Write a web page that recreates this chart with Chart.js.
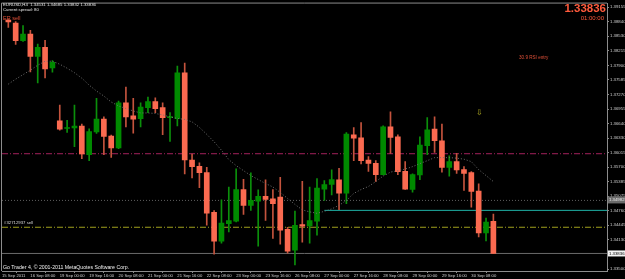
<!DOCTYPE html>
<html>
<head>
<meta charset="utf-8">
<script src="https://cdn.jsdelivr.net/npm/chart.js@4.4.1/dist/chart.umd.min.js"></script>
<style>
  html, body { margin: 0; padding: 0; background: #000; }
  #chartWrap { width: 625px; height: 279px; }
</style>
</head>
<body>
<div id="chartWrap"><canvas id="chartDiv" width="625" height="279"></canvas></div>
<script>
// EURUSD H4, 15 Sep 20:00 .. 30 Sep 20:00 (one entry per bar)
const opens = [1.38880, 1.38812, 1.38433, 1.38575, 1.38096, 1.38290, 1.37845, 1.36700, 1.36535, 1.36550,
  1.36586, 1.35970, 1.36464, 1.36737, 1.36372, 1.36114, 1.37093, 1.36808, 1.36750, 1.36986,
  1.37115, 1.36986, 1.36771, 1.36750, 1.37738, 1.35856, 1.35719, 1.35583, 1.34724, 1.34101,
  1.34482, 1.34531, 1.35218, 1.34875, 1.34967, 1.35068, 1.35019, 1.35053, 1.34359, 1.33908,
  1.34460, 1.34430, 1.34531, 1.35225, 1.35326, 1.35427, 1.35139, 1.36400, 1.36335, 1.35856,
  1.35783, 1.35540, 1.36571, 1.36357, 1.35611, 1.35218, 1.35534, 1.36163, 1.36522, 1.36271,
  1.35697, 1.35820, 1.35648, 1.35583, 1.35182, 1.34280, 1.34531];
const highs = [1.38891, 1.38848, 1.38762, 1.38655, 1.38361, 1.38440, 1.38004, 1.37044, 1.36715, 1.37044,
  1.36629, 1.36528, 1.37188, 1.36786, 1.36393, 1.37130, 1.37431, 1.37188, 1.37093, 1.37216,
  1.37201, 1.37093, 1.36878, 1.37882, 1.37952, 1.35985, 1.35792, 1.35697, 1.34760, 1.34997,
  1.35268, 1.35663, 1.35439, 1.35577, 1.35212, 1.35427, 1.35218, 1.35482, 1.34402, 1.34752,
  1.35397, 1.35268, 1.35455, 1.35412, 1.35641, 1.35676, 1.36449, 1.36556, 1.36664, 1.35927,
  1.35841, 1.36593, 1.36894, 1.36400, 1.35820, 1.35555, 1.36357, 1.36771, 1.36786, 1.36629,
  1.35948, 1.35998, 1.35712, 1.35605, 1.35341, 1.34602, 1.34685];
const lows = [1.38719, 1.38354, 1.38418, 1.37759, 1.37523, 1.37630, 1.37753, 1.36500, 1.36449, 1.36142,
  1.35884, 1.35841, 1.36427, 1.35970, 1.35912, 1.36100, 1.36571, 1.36436, 1.36571, 1.36878,
  1.36878, 1.36400, 1.36256, 1.36593, 1.35555, 1.35470, 1.35255, 1.34445, 1.33822, 1.34058,
  1.34301, 1.34516, 1.34681, 1.34767, 1.33994, 1.34552, 1.34159, 1.34037, 1.33844, 1.33586,
  1.34080, 1.34058, 1.34230, 1.34982, 1.35100, 1.34782, 1.34911, 1.35841, 1.35770, 1.35611,
  1.35390, 1.35534, 1.35998, 1.35540, 1.35218, 1.35160, 1.35433, 1.35970, 1.36019, 1.35590,
  1.35504, 1.35568, 1.35197, 1.34838, 1.34194, 1.34108, 1.33832];
const closes = [1.38837, 1.38433, 1.38575, 1.38096, 1.38290, 1.37824, 1.37967, 1.36522, 1.36556, 1.36586,
  1.35985, 1.36470, 1.36737, 1.36363, 1.36114, 1.37093, 1.36786, 1.36737, 1.37001, 1.37115,
  1.36964, 1.36771, 1.36793, 1.37738, 1.35856, 1.35712, 1.35583, 1.34709, 1.34101, 1.34494,
  1.34546, 1.35218, 1.34875, 1.34982, 1.35068, 1.35003, 1.34911, 1.34338, 1.33887, 1.34445,
  1.34424, 1.34546, 1.35246, 1.35326, 1.35433, 1.35139, 1.36415, 1.36329, 1.35841, 1.35783,
  1.35540, 1.36571, 1.36342, 1.35605, 1.35225, 1.35540, 1.36178, 1.36507, 1.36271, 1.35697,
  1.35820, 1.35641, 1.35568, 1.35175, 1.34280, 1.34516, 1.33836];
// dotted moving average
const maValues = [1.37495, 1.37602, 1.37699, 1.37796, 1.37903, 1.37989, 1.37989, 1.37924, 1.37839, 1.37742,
  1.37624, 1.37473, 1.37345, 1.37237, 1.37108, 1.37022, 1.36969, 1.36915, 1.36872, 1.36872,
  1.36861, 1.36829, 1.36786, 1.36754, 1.36732, 1.36679, 1.36561, 1.36410, 1.36249, 1.36067,
  1.35863, 1.35734, 1.35626, 1.35519, 1.35433, 1.35347, 1.35272, 1.35154, 1.35025, 1.34896,
  1.34778, 1.34735, 1.34703, 1.34746, 1.34799, 1.34875, 1.34982, 1.35132, 1.35218, 1.35283,
  1.35390, 1.35508, 1.35594, 1.35626, 1.35659, 1.35712, 1.35777, 1.35841, 1.35906, 1.35906,
  1.35906, 1.35895, 1.35873, 1.35820, 1.35648, 1.35519, 1.35390];

const timeLabels = ["15 Sep 2011", "16 Sep 08:00", "19 Sep 00:00", "19 Sep 16:00", "20 Sep 08:00",
  "21 Sep 00:00", "21 Sep 16:00", "22 Sep 08:00", "23 Sep 00:00", "23 Sep 16:00", "26 Sep 08:00",
  "27 Sep 00:00", "27 Sep 16:00", "28 Sep 08:00", "29 Sep 00:00", "29 Sep 16:00", "30 Sep 08:00"];
const timeLabelBars = [-0.86, 3, 7, 11, 15, 19, 23, 27, 31, 35, 39, 43, 47, 51, 55, 59, 63];
const priceTicks = [1.33500, 1.34130, 1.34445, 1.34760, 1.35075, 1.35385, 1.35700, 1.36015,
  1.36330, 1.36640, 1.36955, 1.37270, 1.37585, 1.37900, 1.38215, 1.38530, 1.38840, 1.39155];

const levelMaroon = 1.35991,
  levelDotted = 1.34982,
  levelCyan = 1.34767,
  cyanStartBar = 43,
  levelSell = 1.34402,
  lastPrice = 1.33836;

const xMin = -0.86, xMax = 81.46, yMin = 1.33457, yMax = 1.39235;

const bullColor = "#008a00", bearColor = "#fa6a50";
const bullWick = "#0b8f0b", bearWick = "#c4533d";
const fontName = "'Liberation Sans', Arial, sans-serif";

const barIdx = opens.map((_, i) => i);
const isUp = (i) => closes[i] >= opens[i];

const levelLine = (y, color, dash, from = xMin) => ({
  type: "line",
  data: [{ x: from, y: y }, { x: xMax, y: y }],
  borderColor: color,
  borderWidth: 1,
  borderDash: dash,
  pointRadius: 0,
  order: 3,
});

const overlayText = {
  id: "overlayText",
  afterDraw(chart) {
    const { ctx, chartArea, scales } = chart;
    const yScale = scales.y;
    ctx.save();
    // left / top frame
    ctx.strokeStyle = "#8c8c8c";
    ctx.lineWidth = 1;
    ctx.beginPath();
    ctx.moveTo(chartArea.left - 0.5, chartArea.bottom);
    ctx.lineTo(chartArea.left - 0.5, chartArea.top - 0.5);
    ctx.lineTo(chartArea.right, chartArea.top - 0.5);
    ctx.stroke();

    ctx.textBaseline = "middle";
    ctx.textAlign = "left";
    ctx.fillStyle = "#e6e6e6";
    ctx.font = `4.3px ${fontName}`;
    ctx.fillText("EURUSD,H4  1.34531 1.34685 1.33832 1.33836", 3, 5);
    ctx.fillText("Current spread: 80", 3, 10);
    ctx.fillStyle = "#e05038";
    ctx.font = `5.5px ${fontName}`;
    ctx.fillText("ER sell", 3, 18.5);

    ctx.font = `4.6px ${fontName}`;
    ctx.fillText("30.9 RSI entry", 519, 58);

    ctx.fillStyle = "#d8d8d8";
    ctx.font = `4.3px ${fontName}`;
    ctx.fillText("#32712937 sell", 4, yScale.getPixelForValue(levelSell) - 4);

    ctx.fillStyle = "#f0f0f0";
    ctx.font = `5.2px ${fontName}`;
    ctx.fillText("Go Trader 4, \u00a9 2001-2011 MetaQuotes Software Corp.", 3, 267.5);

    ctx.fillStyle = "#b5b022";
    ctx.font = `8px ${fontName}`;
    ctx.textAlign = "center";
    ctx.fillText("\u21e9", 479.5, 113);

    ctx.textAlign = "right";
    ctx.fillStyle = "#ff5a3c";
    ctx.font = `bold 11.5px ${fontName}`;
    ctx.fillText("1.33836", 606, 9);
    ctx.font = `6px ${fontName}`;
    ctx.fillText("01:00:00", 604, 18.5);

    // price labels on the axis
    const boxY = yScale.getPixelForValue(lastPrice);
    ctx.fillStyle = "#f4f4f4";
    ctx.fillRect(chartArea.right + 1, boxY - 3, 20, 6);
    ctx.fillStyle = "#000";
    ctx.textAlign = "left";
    ctx.font = `4.3px ${fontName}`;
    ctx.fillText("1.33836", chartArea.right + 2, boxY);
    const dotY = yScale.getPixelForValue(levelDotted);
    ctx.fillStyle = "#6b6b6b";
    ctx.fillRect(chartArea.right + 1, dotY - 4, 20, 7);
    ctx.fillStyle = "#e8e8e8";
    ctx.fillText("1.34982", chartArea.right + 2, dotY - 0.5);
    ctx.restore();
  },
};

const ctx = document.getElementById("chartDiv");
const chart = new Chart(ctx, {
  type: "bar",
  data: {
    datasets: [
      {
        label: "Body",
        data: barIdx.map((i) => ({ x: i, y: [opens[i], closes[i]] })),
        backgroundColor: barIdx.map((i) => (isUp(i) ? bullColor : bearColor)),
        barThickness: 5,
        minBarLength: 1,
        grouped: false,
        order: 1,
      },
      {
        label: "Wick",
        data: barIdx.map((i) => ({ x: i, y: [lows[i], highs[i]] })),
        backgroundColor: barIdx.map((i) => (isUp(i) ? bullWick : bearWick)),
        barThickness: 1,
        grouped: false,
        order: 2,
      },
      {
        type: "line",
        label: "MA",
        data: barIdx.map((i) => ({ x: i, y: maValues[i] })),
        borderColor: "#707070",
        borderWidth: 1,
        borderDash: [1, 2],
        pointRadius: 0,
        order: 0,
      },
      levelLine(levelMaroon, "#a3205c", [6, 2, 1, 2]),
      levelLine(levelDotted, "#5e5e5e", [1, 2]),
      levelLine(levelCyan, "#1fb2a6", [], cyanStartBar),
      levelLine(levelSell, "#a0a01c", [6, 2, 1, 2]),
      levelLine(lastPrice, "#6a6a6a", []),
    ],
  },
  options: {
    responsive: false,
    animation: false,
    devicePixelRatio: 1,
    layout: { padding: { left: 2, top: 2, right: 0, bottom: 0 } },
    plugins: { legend: { display: false }, tooltip: { enabled: false } },
    scales: {
      x: {
        type: "linear",
        min: xMin,
        max: xMax,
        offset: false,
        afterBuildTicks: (axis) => {
          axis.ticks = timeLabelBars.map((v) => ({ value: v }));
        },
        afterFit: (axis) => {
          axis.height = 8;
        },
        ticks: {
          autoSkip: false,
          maxRotation: 0,
          align: "start",
          padding: 0,
          color: "#d0d0d0",
          font: { family: fontName, size: 4.2 },
          callback: (value, index) => timeLabels[index],
        },
        grid: { display: true, drawOnChartArea: false, tickLength: 2, color: "#8c8c8c" },
        border: { display: true, color: "#8c8c8c" },
      },
      y: {
        position: "right",
        min: yMin,
        max: yMax,
        afterBuildTicks: (axis) => {
          axis.ticks = priceTicks.map((v) => ({ value: v }));
        },
        afterFit: (axis) => {
          axis.width = 18;
        },
        ticks: {
          padding: 1,
          color: "#d0d0d0",
          font: { family: fontName, size: 4.3 },
          callback: (value) => value.toFixed(5),
        },
        grid: { display: true, drawOnChartArea: false, tickLength: 2, color: "#8c8c8c" },
        border: { display: true, color: "#8c8c8c" },
      },
    },
  },
  plugins: [overlayText],
});
</script>
</body>
</html>
